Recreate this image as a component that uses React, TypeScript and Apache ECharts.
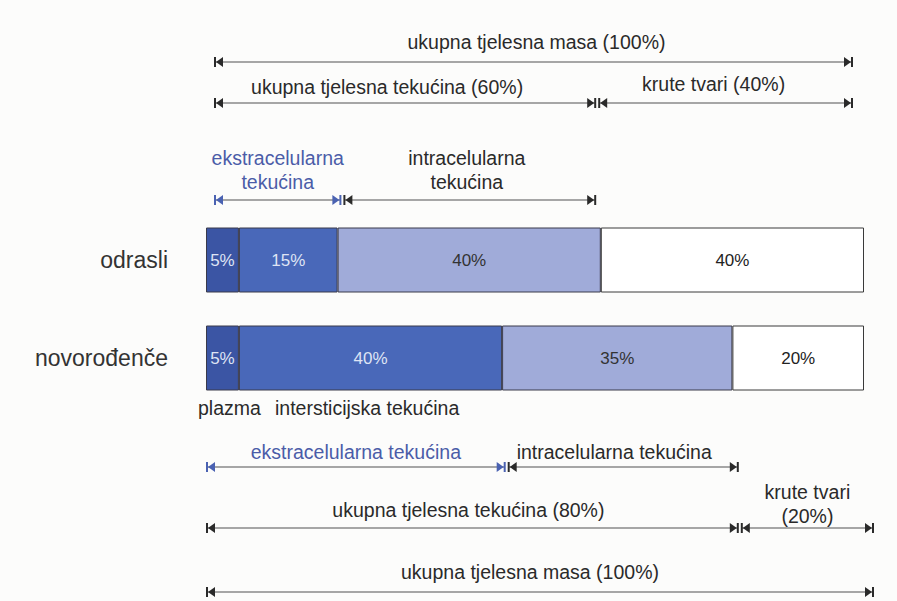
import React, { useEffect, useRef } from "react";
import * as echarts from "echarts";

// ---- data ----
const categories = ["odrasli", "novorođenče"];
const plazma = [5, 5];
const intersticijska = [15, 40];
const intracelularna = [40, 35];
const kruteTvari = [40, 20];

// top annotations (adults)
const topLabels = [
  "ukupna tjelesna masa (100%)",
  "ukupna tjelesna tekućina (60%)",
  "krute tvari (40%)",
  "ekstracelularna\ntekućina",
  "intracelularna\ntekućina",
];
const topStarts = [0, 0, 60, 0, 20];
const topEnds = [100, 60, 100, 20, 60];
const topBlue = [false, false, false, true, false];

// bottom annotations (newborn)
const bottomLabels = [
  "ekstracelularna tekućina",
  "intracelularna tekućina",
  "ukupna tjelesna tekućina (80%)",
  "krute tvari\n(20%)",
  "ukupna tjelesna masa (100%)",
];
const bottomStarts = [0, 45, 0, 80, 0];
const bottomEnds = [45, 80, 80, 100, 100];
const bottomBlue = [true, false, false, false, false];

// ---- layout (pixels) ----
const topLineY = [62, 103, 103, 200, 200];
const topTextY = [42, 87, 84, 170, 170];
const topDx = [3, -18, -12, 0, -3];
const bottomLineY = [467, 467, 528, 528, 592];
const bottomTextY = [452, 452, 510, 504, 572];
const bottomDx = [0, -9, -4, 0, -10];

const FONT = "'Liberation Sans', Arial, Helvetica, sans-serif";
const BLUE_TEXT = "#4b5ca8";
const BLUE_ARROW = "#4a62b2";
const DARK = "#2a2a2a";
const LINE = "#8a8a8a";

function makeRender(labels: string[], blue: boolean[], textY: number[], dx: number[]) {
  return (params: any, api: any) => {
    const i = params.dataIndex;
    const s = api.value(0);
    const e = api.value(1);
    const y = api.value(2);
    const p0 = api.coord([s, y]);
    const p1 = api.coord([e, y]);
    const xL = p0[0] + (s > 0 ? 2 : 0);
    const xR = p1[0] - (e < 100 ? 2 : 0);
    const py = p0[1];
    const colL = blue[i] ? BLUE_ARROW : DARK;
    const colR = blue[i] ? BLUE_ARROW : DARK;
    const h = 5;
    const w = 7;
    return {
      type: "group",
      children: [
        {
          type: "line",
          shape: { x1: xL, y1: py, x2: xR, y2: py },
          style: { stroke: LINE, lineWidth: 1.4 },
        },
        {
          type: "line",
          shape: { x1: xL, y1: py - h, x2: xL, y2: py + h },
          style: { stroke: colL, lineWidth: 2 },
        },
        {
          type: "polygon",
          shape: { points: [[xL + 1, py], [xL + 1 + w, py - h], [xL + 1 + w, py + h]] },
          style: { fill: colL },
        },
        {
          type: "line",
          shape: { x1: xR, y1: py - h, x2: xR, y2: py + h },
          style: { stroke: colR, lineWidth: 2 },
        },
        {
          type: "polygon",
          shape: { points: [[xR - 1, py], [xR - 1 - w, py - h], [xR - 1 - w, py + h]] },
          style: { fill: colR },
        },
        {
          type: "text",
          x: (xL + xR) / 2 + dx[i],
          y: textY[i],
          style: {
            text: labels[i],
            fill: blue[i] ? BLUE_TEXT : DARK,
            fontSize: 19.5,
            fontFamily: FONT,
            align: "center",
            verticalAlign: "middle",
            lineHeight: 24,
          },
        },
      ],
    };
  };
}

export default function App() {
  const ref = useRef<HTMLDivElement>(null);
  useEffect(() => {
    document.body.style.margin = "0";
    const chart = echarts.init(ref.current!, null, { renderer: "svg" });
    const barLabel = (color: string) => ({
      show: true,
      position: "inside",
      formatter: "{c}%",
      color,
      fontSize: 17,
      fontFamily: FONT,
    });
    const barBase = {
      type: "bar",
      stack: "total",
      barWidth: 65,
      xAxisIndex: 0,
      yAxisIndex: 0,
    };
    chart.setOption({
      animation: false,
      backgroundColor: "#fcfcfb",
      grid: [
        { left: 206, right: 33, top: 211, height: 196 },
        { left: 215, right: 45, top: 0, height: 601 },
        { left: 207, right: 24, top: 0, height: 601 },
      ],
      xAxis: [
        { type: "value", min: 0, max: 100, show: false, gridIndex: 0 },
        { type: "value", min: 0, max: 100, show: false, gridIndex: 1 },
        { type: "value", min: 0, max: 100, show: false, gridIndex: 2 },
      ],
      yAxis: [
        {
          type: "category",
          data: categories,
          inverse: true,
          gridIndex: 0,
          axisLine: { show: false },
          axisTick: { show: false },
          axisLabel: { fontSize: 23, color: "#333", fontFamily: FONT, margin: 38 },
        },
        { type: "value", min: 0, max: 601, inverse: true, show: false, gridIndex: 1 },
        { type: "value", min: 0, max: 601, inverse: true, show: false, gridIndex: 2 },
      ],
      series: [
        {
          ...barBase,
          name: "plazma",
          data: plazma,
          itemStyle: { color: "#3b55a4", borderColor: "#3a3a4a", borderWidth: 1 },
          label: barLabel("#dfe4f4"),
        },
        {
          ...barBase,
          name: "intersticijska tekućina",
          data: intersticijska,
          itemStyle: { color: "#4968b9", borderColor: "#3a3a4a", borderWidth: 1 },
          label: barLabel("#dfe4f4"),
        },
        {
          ...barBase,
          name: "intracelularna tekućina",
          data: intracelularna,
          itemStyle: { color: "#a0abd9", borderColor: "#3a3a4a", borderWidth: 1 },
          label: barLabel("#333"),
        },
        {
          ...barBase,
          name: "krute tvari",
          data: kruteTvari,
          itemStyle: { color: "#ffffff", borderColor: "#3a3a3a", borderWidth: 1 },
          label: barLabel("#222"),
        },
        {
          type: "custom",
          xAxisIndex: 1,
          yAxisIndex: 1,
          encode: { x: [0, 1], y: 2 },
          data: topStarts.map((s, i) => [s, topEnds[i], topLineY[i]]),
          renderItem: makeRender(topLabels, topBlue, topTextY, topDx),
        },
        {
          type: "custom",
          xAxisIndex: 2,
          yAxisIndex: 2,
          encode: { x: [0, 1], y: 2 },
          data: bottomStarts.map((s, i) => [s, bottomEnds[i], bottomLineY[i]]),
          renderItem: makeRender(bottomLabels, bottomBlue, bottomTextY, bottomDx),
        },
      ],
      graphic: [
        {
          type: "text",
          left: 198,
          top: 398,
          style: { text: "plazma", fill: DARK, fontSize: 19.5, fontFamily: FONT },
        },
        {
          type: "text",
          left: 275,
          top: 398,
          style: { text: "intersticijska tekućina", fill: DARK, fontSize: 19.5, fontFamily: FONT },
        },
      ],
    });
    return () => chart.dispose();
  }, []);
  return <div ref={ref} style={{ width: 897, height: 601 }} />;
}
